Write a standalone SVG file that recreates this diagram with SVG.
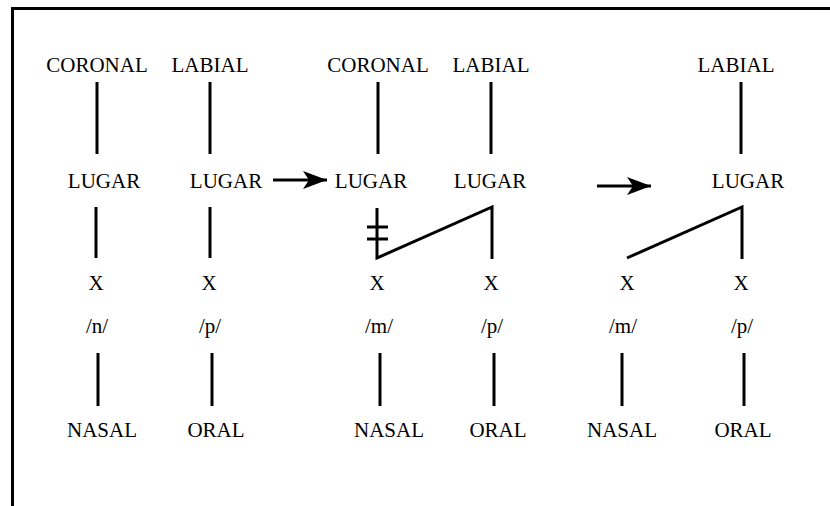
<svg xmlns="http://www.w3.org/2000/svg" width="830" height="506" viewBox="0 0 830 506" font-family="Liberation Serif, serif">
  <style>
    text { font-family: 'Liberation Serif', 'Times New Roman', serif; font-size: 21px; fill: #000; text-anchor: middle; }
    .ln { stroke: #000; stroke-width: 3; fill: none; }
  </style>
  <defs>
    <marker id="head" viewBox="0 0 24 18" refX="24" refY="9" markerWidth="24" markerHeight="18" markerUnits="userSpaceOnUse" orient="auto">
      <path d="M0,0 L24,9 L0,18 L6,9 Z" fill="#000"/>
    </marker>
  </defs>
  <rect width="830" height="506" fill="#fff"/>
  <path class="ln" d="M12.5,506 V8.5 H830"/>

  <!-- left tree: /n/ + /p/ -->
  <g id="tree1">
    <text x="97" y="72">CORONAL</text>
    <text x="210" y="72">LABIAL</text>
    <text x="104" y="188">LUGAR</text>
    <text x="226" y="188">LUGAR</text>
    <text x="96" y="290">X</text>
    <text x="209" y="290">X</text>
    <text x="97" y="333">/n/</text>
    <text x="210" y="333">/p/</text>
    <text x="102" y="437">NASAL</text>
    <text x="216" y="437">ORAL</text>
  </g>

  <!-- middle tree: delinking -->
  <g id="tree2">
    <text x="378" y="72">CORONAL</text>
    <text x="491" y="72">LABIAL</text>
    <text x="371" y="188">LUGAR</text>
    <text x="490" y="188">LUGAR</text>
    <text x="377" y="290">X</text>
    <text x="491" y="290">X</text>
    <text x="379" y="333">/m/</text>
    <text x="492" y="333">/p/</text>
    <text x="389" y="437">NASAL</text>
    <text x="498" y="437">ORAL</text>
  </g>

  <!-- right tree: result -->
  <g id="tree3">
    <text x="736" y="72">LABIAL</text>
    <text x="748" y="188">LUGAR</text>
    <text x="627" y="290">X</text>
    <text x="741" y="290">X</text>
    <text x="623" y="333">/m/</text>
    <text x="742" y="333">/p/</text>
    <text x="622" y="437">NASAL</text>
    <text x="743" y="437">ORAL</text>
  </g>

  <g id="connectors">
    <!-- features to place node -->
    <path class="ln" d="M97,82 V154 M210,82 V154 M378,82 V154 M491,82 V154 M741,82 V154"/>
    <!-- place node to timing slot -->
    <path class="ln" d="M96,207 V258 M210,207 V258"/>
    <path class="ln" d="M377,208 V258 L492,207 V259"/>
    <path class="ln" d="M367,227 H388 M367,239 H388"/>
    <path class="ln" d="M627,258 L742,207 V259"/>
    <!-- segment to nasality -->
    <path class="ln" d="M98,353 V406 M212,353 V406 M380,353 V406 M494,353 V406 M622,353 V406 M744,353 V406"/>
    <!-- derivation arrows -->
    <line class="ln" x1="273" y1="180" x2="327" y2="180" marker-end="url(#head)"/>
    <line class="ln" x1="597" y1="186" x2="651" y2="186" marker-end="url(#head)"/>
  </g>
</svg>
